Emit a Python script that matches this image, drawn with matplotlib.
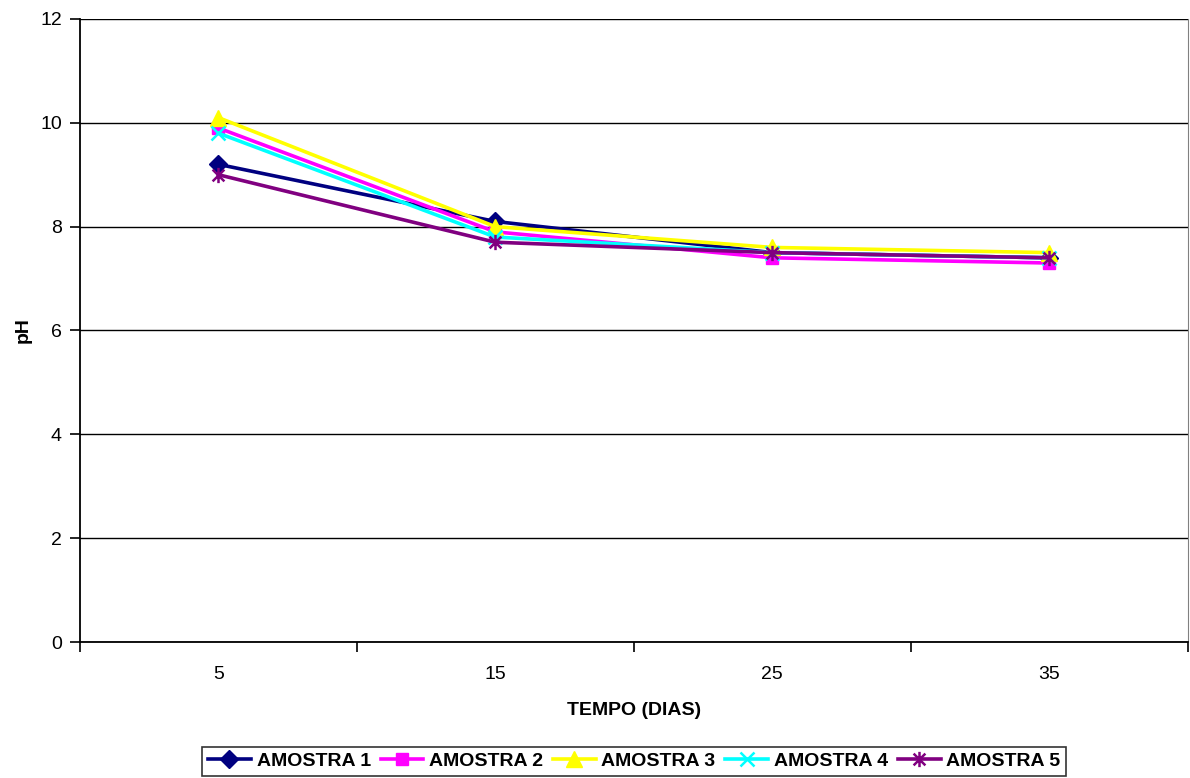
import matplotlib.pyplot as plt
import numpy as np
from matplotlib.path import Path

plt.rcParams['font.family'] = ['Liberation Sans', 'DejaVu Sans']

# data
dias = ['5', '15', '25', '35']
amostra_1 = [9.2, 8.1, 7.5, 7.4]
amostra_2 = [9.9, 7.9, 7.4, 7.3]
amostra_3 = [10.1, 8.0, 7.6, 7.5]
amostra_4 = [9.8, 7.8, 7.5, 7.4]
amostra_5 = [9.0, 7.7, 7.5, 7.4]
nomes = ['AMOSTRA 1', 'AMOSTRA 2', 'AMOSTRA 3', 'AMOSTRA 4', 'AMOSTRA 5']

# excel style "star" marker: an x with a vertical bar through it
star = Path([(-1, -1), (1, 1), (-1, 1), (1, -1), (0, -1.3), (0, 1.3)],
            [Path.MOVETO, Path.LINETO, Path.MOVETO, Path.LINETO, Path.MOVETO, Path.LINETO])

series = [amostra_1, amostra_2, amostra_3, amostra_4, amostra_5]
cores = ['#000080', '#FF00FF', '#FFFF00', '#00FFFF', '#800080']
marcadores = ['D', 's', '^', 'x', star]
tamanhos = [9, 9, 11, 10, 11]

fig = plt.figure(figsize=(11.9, 7.78), dpi=100)
ax = fig.add_axes([0.0672, 0.1748, 0.9308, 0.8008])

x = np.arange(len(dias))
for vals, cor, m, ms, nome in zip(series, cores, marcadores, tamanhos, nomes):
    ax.plot(x, vals, color=cor, lw=2.6, marker=m, markersize=ms,
            markeredgewidth=1.8 if (m == 'x' or m is star) else 1,
            markerfacecolor=cor, markeredgecolor=cor, label=nome, zorder=3)

ax.set_xlim(-0.5, len(dias) - 0.5)
ax.set_ylim(0, 12)
ax.set_yticks(np.arange(0, 13, 2))
ax.yaxis.grid(True, color='black', lw=1)
ax.set_axisbelow(True)

# ticks between categories, labels centred
ax.set_xticks(np.arange(-0.5, len(dias), 1))
ax.set_xticklabels([])
ax.set_xticks(x, minor=True)
ax.set_xticklabels(dias, minor=True)
ax.tick_params(axis='x', which='minor', length=0, pad=17, labelsize=14)
ax.tick_params(axis='x', which='major', length=7, width=1.2, direction='out')
ax.tick_params(axis='y', length=7, width=1.2, direction='out', labelsize=14, pad=6)

for s in ['left', 'bottom']:
    ax.spines[s].set_linewidth(1.3)
    ax.spines[s].set_color('black')
ax.spines['top'].set_visible(False)
ax.spines['right'].set_color('#808080')

ax.set_xlabel('TEMPO (DIAS)', fontsize=14, fontweight='bold', labelpad=14)
ax.set_ylabel('pH', fontsize=14, fontweight='bold', labelpad=6)

leg = fig.legend(loc='lower center', bbox_to_anchor=(0.533, 0.0), ncol=5,
                 prop={'weight': 'bold', 'size': 14}, frameon=True, fancybox=False,
                 edgecolor='black', handlelength=2.2, columnspacing=0.5,
                 handletextpad=0.3, borderpad=0.3, borderaxespad=0.1)
leg.get_frame().set_linewidth(1.2)

fig.savefig('out.png', dpi=100)
